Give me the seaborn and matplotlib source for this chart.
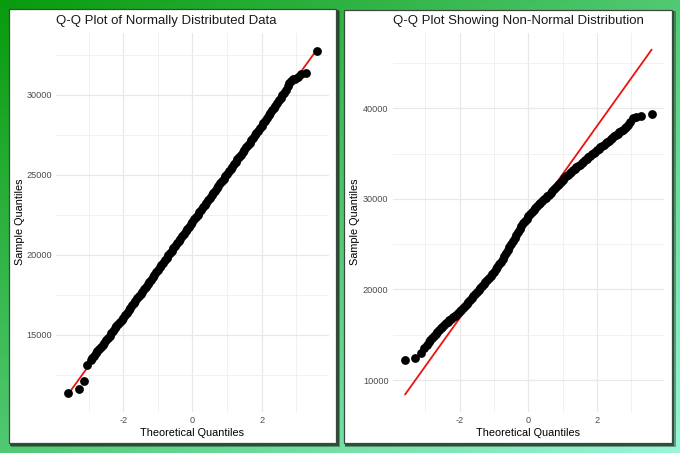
import numpy as np
import pandas as pd
import matplotlib
matplotlib.use("Agg")
import matplotlib.pyplot as plt
import seaborn as sns
from matplotlib.patches import Rectangle

# ---------------- data ----------------
titles = ["Q-Q Plot of Normally Distributed Data", "Q-Q Plot Showing Non-Normal Distribution"]
x_label = "Theoretical Quantiles"
y_label = "Sample Quantiles"

tail_low_theoretical = [-3.59, -3.29, -3.14, -3.04]
tail_high_theoretical = [2.97, 3.04, 3.14, 3.29, 3.59]
band_theoretical = [
    -2.95, -2.90, -2.85, -2.80, -2.75, -2.70, -2.65, -2.60, -2.55, -2.50,
    -2.45, -2.40, -2.35, -2.30, -2.25, -2.20, -2.15, -2.10, -2.05, -2.00,
    -1.95, -1.90, -1.85, -1.80, -1.75, -1.70, -1.65, -1.60, -1.55, -1.50,
    -1.45, -1.40, -1.35, -1.30, -1.25, -1.20, -1.15, -1.10, -1.05, -1.00,
    -0.95, -0.90, -0.85, -0.80, -0.75, -0.70, -0.65, -0.60, -0.55, -0.50,
    -0.45, -0.40, -0.35, -0.30, -0.25, -0.20, -0.15, -0.10, -0.05, 0.00,
    0.05, 0.10, 0.15, 0.20, 0.25, 0.30, 0.35, 0.40, 0.45, 0.50,
    0.55, 0.60, 0.65, 0.70, 0.75, 0.80, 0.85, 0.90, 0.95, 1.00,
    1.05, 1.10, 1.15, 1.20, 1.25, 1.30, 1.35, 1.40, 1.45, 1.50,
    1.55, 1.60, 1.65, 1.70, 1.75, 1.80, 1.85, 1.90, 1.95, 2.00,
    2.05, 2.10, 2.15, 2.20, 2.25, 2.30, 2.35, 2.40, 2.45, 2.50,
    2.55, 2.60, 2.65, 2.70, 2.75, 2.80, 2.85, 2.90,
]

normal_tail_low = [11340, 11640, 12100, 13130]
normal_band = [
    13400, 13560, 13700, 13840, 13980, 14120, 14260, 14380, 14520, 14650,
    14800, 14950, 15100, 15260, 15420, 15560, 15680, 15800, 15940, 16080,
    16230, 16380, 16530, 16690, 16840, 16980, 17120, 17270, 17410, 17560,
    17700, 17850, 18000, 18150, 18300, 18450, 18600, 18750, 18900, 19060,
    19210, 19360, 19510, 19660, 19810, 19960, 20110, 20260, 20410, 20560,
    20710, 20860, 21010, 21160, 21310, 21460, 21610, 21760, 21910, 22060,
    22210, 22360, 22510, 22660, 22810, 22960, 23110, 23260, 23410, 23560,
    23710, 23860, 24010, 24160, 24310, 24460, 24610, 24760, 24910, 25060,
    25210, 25360, 25510, 25660, 25810, 25960, 26110, 26260, 26410, 26560,
    26710, 26860, 27010, 27160, 27310, 27460, 27610, 27760, 27910, 28060,
    28210, 28380, 28540, 28700, 28860, 29020, 29170, 29320, 29470, 29640,
    29800, 29960, 30130, 30310, 30520, 30730, 30880, 30980,
]
normal_tail_high = [31000, 31080, 31280, 31370, 32720]
normal_ref_intercept = 22050
normal_ref_slope = 2990

skewed_tail_low = [12210, 12400, 12950, 13500]
skewed_band = [
    13900, 14150, 14380, 14620, 14850, 15080, 15300, 15500, 15700, 15900,
    16100, 16290, 16460, 16630, 16780, 16930, 17080, 17230, 17400, 17580,
    17760, 17950, 18150, 18360, 18580, 18810, 19050, 19290, 19520, 19750,
    19970, 20190, 20410, 20630, 20850, 21070, 21290, 21510, 21740, 21980,
    22230, 22500, 22780, 23070, 23370, 23680, 24000, 24330, 24670, 25010,
    25360, 25700, 26040, 26370, 26690, 27000, 27290, 27570, 27840, 28100,
    28340, 28570, 28790, 29000, 29200, 29390, 29580, 29760, 29940, 30120,
    30300, 30480, 30660, 30840, 31060, 31300, 31500, 31700, 31900, 32100,
    32300, 32480, 32660, 32830, 33000, 33160, 33320, 33480, 33640, 33800,
    33960, 34120, 34280, 34440, 34600, 34760, 34920, 35080, 35240, 35400,
    35550, 35700, 35850, 36000, 36150, 36300, 36450, 36600, 36750, 36900,
    37050, 37200, 37350, 37500, 37650, 37800, 37970, 38150,
]
skewed_tail_high = [38450, 38900, 39100, 39200, 39400]
skewed_ref_intercept = 27445
skewed_ref_slope = 5306

normal_yticks = [15000, 20000, 25000, 30000]
normal_yminor = [12500, 17500, 22500, 27500, 32500]
skewed_yticks = [10000, 20000, 30000, 40000]
skewed_yminor = [15000, 25000, 35000, 45000]
xticks = [-2, 0, 2]
xminor = [-3, -1, 1, 3]

# ---------------- styling ----------------
sns.set_theme(style="white")
plt.rcParams["font.family"] = ["Liberation Sans", "DejaVu Sans"]

W, H = 680, 453
fig = plt.figure(figsize=(W / 100, H / 100), dpi=100)

# background gradient (pixel coordinate axes)
bg = fig.add_axes([0, 0, 1, 1])
bg.set_xlim(0, W)
bg.set_ylim(H, 0)
bg.axis("off")
gx, gy = np.meshgrid(np.linspace(0, 1, W), np.linspace(0, 1, H))
t = (gx + gy) / 2
c0 = np.array([8, 155, 12]) / 255
c1 = np.array([155, 246, 218]) / 255
img = c0[None, None, :] * (1 - t[..., None]) + c1[None, None, :] * t[..., None]
bg.imshow(img, extent=(0, W, H, 0), aspect="auto", zorder=0)

panels = [(9, 9, 336, 443), (343.5, 9.5, 671.5, 443)]
for (x0, y0, x1, y1) in panels:
    bg.add_patch(Rectangle((x0 + 1.5, y0 + 1.5), x1 - x0 + 2.5, y1 - y0 + 2.5,
                           facecolor="#1d3a24", edgecolor="none", alpha=0.45, zorder=1))
    bg.add_patch(Rectangle((x0 + 1, y0 + 1), x1 - x0 + 1.5, y1 - y0 + 1.5,
                           facecolor="#253d2b", edgecolor="none", alpha=0.8, zorder=1))
    bg.add_patch(Rectangle((x0, y0), x1 - x0, y1 - y0,
                           facecolor="white", edgecolor="#3a4a3e", linewidth=0.9, zorder=2))

axes_px = [(56, 33, 329, 411.7), (392.7, 33, 664, 411.7)]

datasets = [
    (normal_tail_low + normal_band + normal_tail_high,
     normal_ref_intercept, normal_ref_slope,
     (10200, 33850), normal_yticks, normal_yminor),
    (skewed_tail_low + skewed_band + skewed_tail_high,
     skewed_ref_intercept, skewed_ref_slope,
     (6500, 48330), skewed_yticks, skewed_yminor),
]
theoretical = tail_low_theoretical + band_theoretical + tail_high_theoretical

for i, ((x0, y0, x1, y1), (sample, b0, b1, ylim, yt, ym)) in enumerate(zip(axes_px, datasets)):
    ax = fig.add_axes([x0 / W, (H - y1) / H, (x1 - x0) / W, (y1 - y0) / H])
    ax.set_facecolor("none")
    df = pd.DataFrame({"theoretical": theoretical, "sample": sample})
    line_df = pd.DataFrame({"theoretical": [min(theoretical), max(theoretical)]})
    line_df["sample"] = b0 + b1 * line_df["theoretical"]

    sns.lineplot(data=line_df, x="theoretical", y="sample", ax=ax, color="#ee1111",
                 linewidth=1.3, zorder=2)
    sns.scatterplot(data=df, x="theoretical", y="sample", ax=ax, color="black",
                    s=40, linewidth=0, zorder=3)

    ax.set_xlim(-3.95, 3.95)
    ax.set_ylim(*ylim)
    ax.set_xticks(xticks)
    ax.set_xticks(xminor, minor=True)
    ax.set_yticks(yt)
    ax.set_yticks(ym, minor=True)
    ax.set_xticklabels([str(v) for v in xticks])
    ax.set_yticklabels([str(v) for v in yt])
    ax.grid(which="major", color="#E8E8E8", linewidth=0.9)
    ax.grid(which="minor", color="#EFEFEF", linewidth=0.6)
    ax.set_axisbelow(True)
    for s in ax.spines.values():
        s.set_visible(False)
    ax.tick_params(which="both", length=0, labelsize=6.6, labelcolor="#4d4d4d")
    ax.tick_params(axis="y", pad=3.0)
    ax.tick_params(axis="x", pad=3.2)
    ax.set_xlabel("")
    ax.set_ylabel("")

    # title, axis titles
    bg.text(x0 + 0.5, 24, titles[i], fontsize=9.5, color="#1a1a1a", ha="left", va="baseline", zorder=5)
    bg.text((x0 + x1) / 2, 435.7, x_label, fontsize=7.85, color="black", ha="center", va="baseline", zorder=5)
    bg.text(x0 - 35.5 if i == 0 else x0 - 37.2, 222, y_label, fontsize=7.85, color="black",
            rotation=90, ha="center", va="center", zorder=5)

fig.savefig("out.png", dpi=100)
